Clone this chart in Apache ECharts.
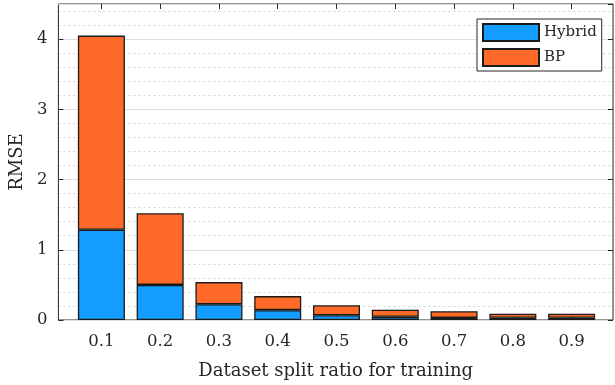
<!DOCTYPE html>
<html>
<head>
<meta charset="utf-8">
<script src="https://cdn.jsdelivr.net/npm/echarts@6/dist/echarts.min.js"></script>
<style>
html,body{margin:0;padding:0;background:#fff;}
#chart{width:615px;height:385px;}
</style>
</head>
<body>
<div id="chart"></div>
<script>
// ---- data ----
var categories = ['0.1', '0.2', '0.3', '0.4', '0.5', '0.6', '0.7', '0.8', '0.9'];
var hybrid = [1.285, 0.50, 0.225, 0.14, 0.067, 0.045, 0.03, 0.033, 0.033];
var bp     = [2.765, 1.02, 0.315, 0.20, 0.143, 0.102, 0.094, 0.057, 0.057];
var seriesNames = ['Hybrid', 'BP'];

var FONT = 'DejaVu Serif';
var AX = '#262626';

var chart = echarts.init(document.getElementById('chart'), null, {renderer:'canvas'});
chart.setOption({
  animation:false,
  backgroundColor:'#fff',
  grid:[
    {left:54, right:2, top:4, bottom:65, show:true, borderColor:AX, borderWidth:1, backgroundColor:'transparent', z:0},
    {left:72, right:14, top:4, bottom:65}
  ],
  legend:{
    orient:'vertical', left:477, top:19,
    data:seriesNames, icon:'rect',
    itemWidth:56, itemHeight:17, itemGap:6,
    padding:[4,5,4,5],
    borderColor:AX, borderWidth:1, backgroundColor:'#fff',
    textStyle:{fontFamily:FONT, fontSize:15, color:AX},
    selectedMode:false
  },
  xAxis:[
    {
      type:'value', gridIndex:0, min:0, max:1, show:true,
      name:'Dataset split ratio for training', nameLocation:'middle', nameGap:42,
      nameTextStyle:{fontFamily:FONT, fontSize:18, color:AX},
      axisLine:{show:false}, axisTick:{show:false}, axisLabel:{show:false}, splitLine:{show:false}
    },
    {
      type:'category', gridIndex:1, position:'bottom', data:categories, boundaryGap:true,
      axisLine:{show:false},
      axisTick:{show:true, inside:true, length:5, alignWithLabel:true, lineStyle:{color:AX}},
      axisLabel:{show:true, margin:13, fontFamily:FONT, fontSize:16.5, color:AX},
      splitLine:{show:false}
    },
    {
      type:'category', gridIndex:1, position:'top', data:categories, boundaryGap:true,
      axisLine:{show:false},
      axisTick:{show:true, inside:true, length:5, alignWithLabel:true, lineStyle:{color:AX}},
      axisLabel:{show:false},
      splitLine:{show:false}
    }
  ],
  yAxis:[
    {
      type:'value', gridIndex:0, min:0, max:4.5, interval:1, position:'left',
      name:'RMSE', nameLocation:'middle', nameGap:31,
      nameTextStyle:{fontFamily:FONT, fontSize:18, color:AX},
      axisLine:{show:false},
      axisTick:{show:true, inside:true, length:5, lineStyle:{color:AX}},
      axisLabel:{show:true, margin:11, showMaxLabel:false, fontFamily:FONT, fontSize:16.5, color:AX},
      splitLine:{show:true, lineStyle:{color:'#dedede', width:1, type:'solid'}}
    },
    {
      type:'value', gridIndex:0, min:0, max:4.5, interval:0.2, position:'left',
      axisLine:{show:false}, axisTick:{show:false}, axisLabel:{show:false},
      splitLine:{show:true, lineStyle:{color:'#d4d4d4', width:1, type:[2,3]}},
      z:-1
    },
    {
      type:'value', gridIndex:0, min:0, max:4.5, interval:1, position:'right',
      axisLine:{show:false},
      axisTick:{show:true, inside:true, length:5, lineStyle:{color:AX}},
      axisLabel:{show:false},
      splitLine:{show:false}
    },
    {
      type:'value', gridIndex:1, min:0, max:4.5, show:false
    }
  ],
  series:[
    {
      name:seriesNames[0], type:'bar', stack:'rmse', xAxisIndex:1, yAxisIndex:3,
      barWidth:'80%', data:hybrid,
      itemStyle:{color:'#139dff', borderColor:'#1a1a1a', borderWidth:1.3}
    },
    {
      name:seriesNames[1], type:'bar', stack:'rmse', xAxisIndex:1, yAxisIndex:3,
      barWidth:'80%', data:bp,
      itemStyle:{color:'#ff6a29', borderColor:'#1a1a1a', borderWidth:1.3}
    }
  ]
});
</script>
</body>
</html>
